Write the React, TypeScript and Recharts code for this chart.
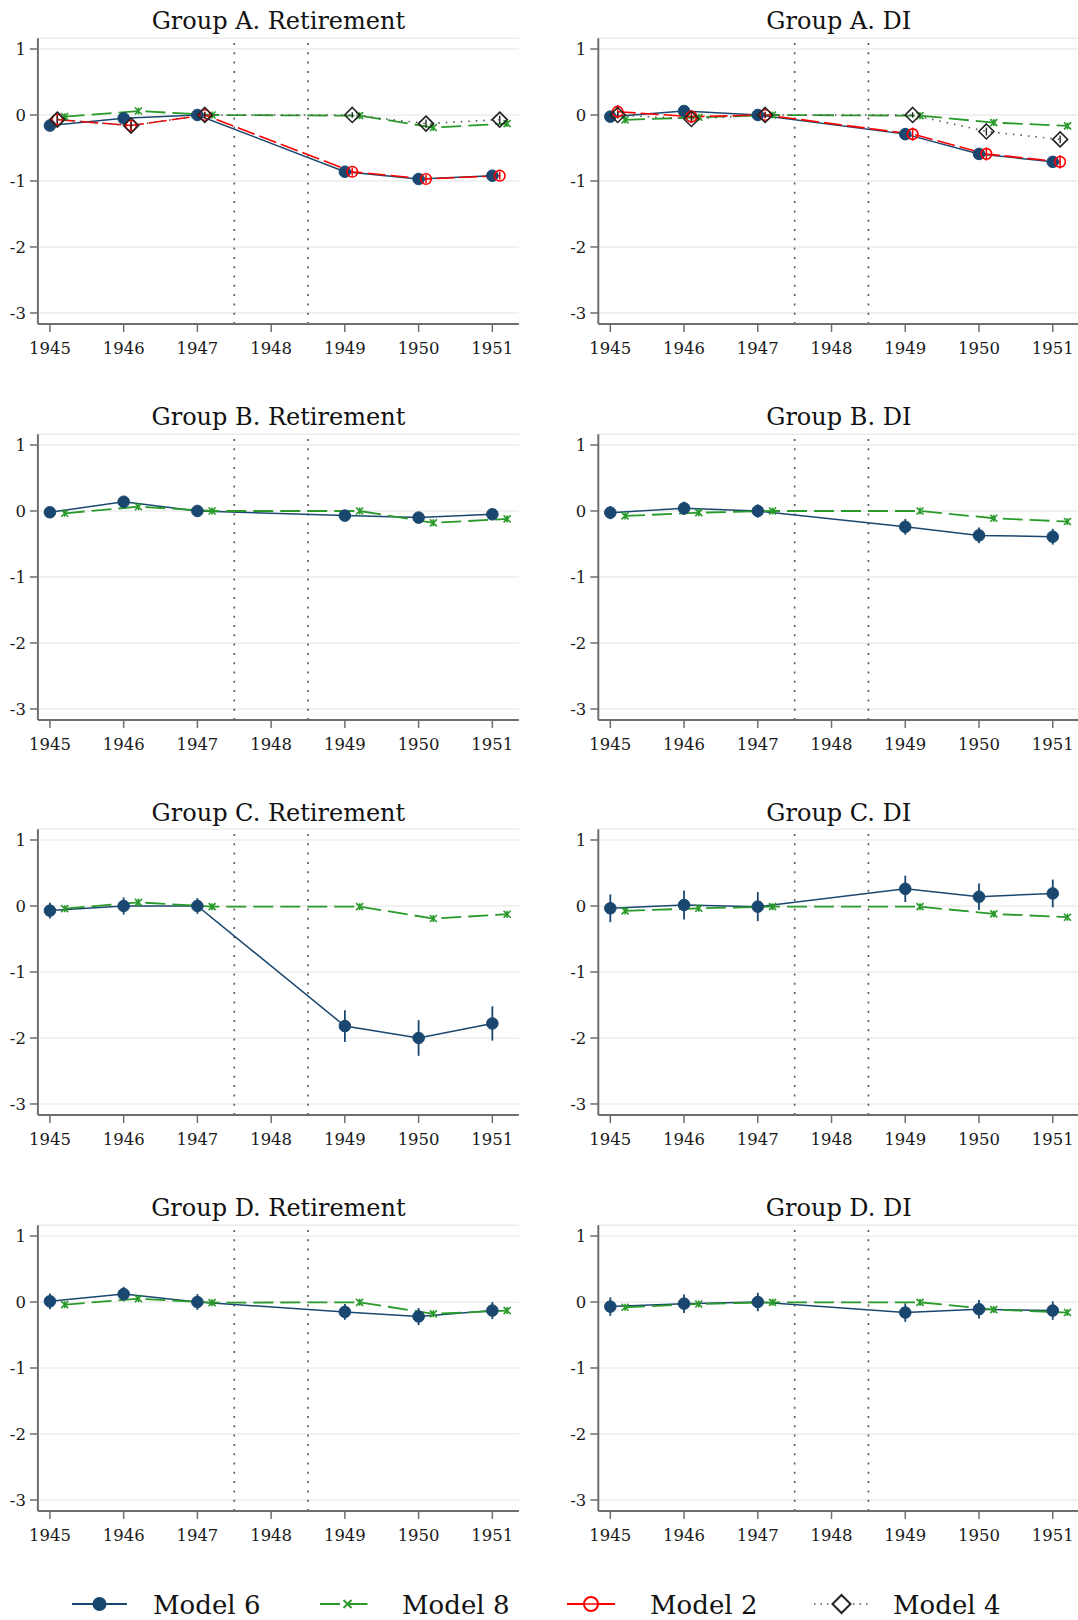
import React from 'react';
import { LineChart, Line, XAxis, YAxis, CartesianGrid, ReferenceLine, ErrorBar } from 'recharts';

const NAVY = '#1a476f';
const GREEN = '#2a9a2a';
const RED = '#ff0000';
const BLACK = '#222222';
const AXIS = '#6e6e6e';
const FONT = '"DejaVu Serif", serif';

const years = [1945, 1946, 1947, 1949, 1950, 1951];
const xTicks = [1945, 1946, 1947, 1948, 1949, 1950, 1951];
const yTicks = [-3, -2, -1, 0, 1];
const reformLines = [1947.5, 1948.5];
const legendLabels = ['Model 6', 'Model 8', 'Model 2', 'Model 4'];

// Group A. Retirement
const aRetM6 = [-0.16, -0.05, 0, -0.86, -0.97, -0.92];
const aRetM6ci = [0.05, 0.05, 0.04, 0.05, 0.05, 0.05];
const aRetM8 = [-0.025, 0.06, 0, -0.01, -0.19, -0.13];
const aRetM2 = [-0.07, -0.16, 0, -0.86, -0.97, -0.92];
const aRetM2ci = [0.08, 0.07, 0.05, 0.06, 0.06, 0.06];
const aRetM4 = [-0.07, -0.16, 0, 0, -0.13, -0.07];
const aRetM4ci = [0.06, 0.06, 0.04, 0.04, 0.06, 0.06];

// Group A. DI
const aDiM6 = [-0.025, 0.06, 0, -0.29, -0.59, -0.71];
const aDiM6ci = [0.07, 0.07, 0.05, 0.08, 0.08, 0.08];
const aDiM8 = [-0.075, -0.035, 0, -0.01, -0.115, -0.165];
const aDiM2 = [0.05, -0.025, 0, -0.29, -0.59, -0.71];
const aDiM2ci = [0.1, 0.1, 0.05, 0.1, 0.1, 0.1];
const aDiM4 = [0, -0.06, 0, 0, -0.25, -0.37];
const aDiM4ci = [0.05, 0.06, 0.04, 0.04, 0.06, 0.06];

// Group B. Retirement
const bRetM6 = [-0.02, 0.14, 0, -0.07, -0.1, -0.05];
const bRetM6ci = [0.05, 0.05, 0.04, 0.05, 0.05, 0.05];
const bRetM8 = [-0.035, 0.065, 0, 0, -0.18, -0.12];

// Group B. DI
const bDiM6 = [-0.025, 0.04, 0, -0.24, -0.37, -0.39];
const bDiM6ci = [0.1, 0.1, 0.1, 0.12, 0.12, 0.12];
const bDiM8 = [-0.075, -0.025, 0, 0, -0.11, -0.16];

// Group C. Retirement
const cRetM6 = [-0.07, 0, 0, -1.82, -2.0, -1.78];
const cRetM6ci = [0.12, 0.13, 0.12, 0.24, 0.27, 0.26];
const cRetM8 = [-0.04, 0.055, -0.01, -0.01, -0.19, -0.125];

// Group C. DI
const cDiM6 = [-0.035, 0.015, -0.01, 0.26, 0.14, 0.19];
const cDiM6ci = [0.21, 0.22, 0.22, 0.2, 0.2, 0.21];
const cDiM8 = [-0.075, -0.035, -0.01, -0.01, -0.12, -0.17];

// Group D. Retirement
const dRetM6 = [0.01, 0.12, 0, -0.15, -0.22, -0.13];
const dRetM6ci = [0.12, 0.11, 0.12, 0.12, 0.13, 0.13];
const dRetM8 = [-0.04, 0.05, -0.01, -0.005, -0.18, -0.13];

// Group D. DI
const dDiM6 = [-0.07, -0.025, 0, -0.16, -0.11, -0.13];
const dDiM6ci = [0.14, 0.14, 0.14, 0.14, 0.14, 0.14];
const dDiM8 = [-0.08, -0.03, -0.005, -0.005, -0.115, -0.16];

const OFF6 = 0;
const OFF2 = 0.1;
const OFF4 = 0.1;
const OFF8 = 0.2;

type Pt = { x: number; y: number; e: number };
const toPoints = (vals: number[], off: number, ci?: number[]): Pt[] =>
  years.map((yr, i) => ({ x: yr + off, y: vals[i], e: ci ? ci[i] : 0 }));

type Panel = {
  title: string;
  row: number;
  col: number;
  m6: number[];
  m6ci: number[];
  m8: number[];
  m2?: number[];
  m2ci?: number[];
  m4?: number[];
  m4ci?: number[];
};

const panels: Panel[] = [
  { title: 'Group A. Retirement', row: 0, col: 0, m6: aRetM6, m6ci: aRetM6ci, m8: aRetM8, m2: aRetM2, m2ci: aRetM2ci, m4: aRetM4, m4ci: aRetM4ci },
  { title: 'Group A. DI', row: 0, col: 1, m6: aDiM6, m6ci: aDiM6ci, m8: aDiM8, m2: aDiM2, m2ci: aDiM2ci, m4: aDiM4, m4ci: aDiM4ci },
  { title: 'Group B. Retirement', row: 1, col: 0, m6: bRetM6, m6ci: bRetM6ci, m8: bRetM8 },
  { title: 'Group B. DI', row: 1, col: 1, m6: bDiM6, m6ci: bDiM6ci, m8: bDiM8 },
  { title: 'Group C. Retirement', row: 2, col: 0, m6: cRetM6, m6ci: cRetM6ci, m8: cRetM8 },
  { title: 'Group C. DI', row: 2, col: 1, m6: cDiM6, m6ci: cDiM6ci, m8: cDiM8 },
  { title: 'Group D. Retirement', row: 3, col: 0, m6: dRetM6, m6ci: dRetM6ci, m8: dRetM8 },
  { title: 'Group D. DI', row: 3, col: 1, m6: dDiM6, m6ci: dDiM6ci, m8: dDiM8 },
];

// layout
const ROW_STEP = 395.7;
const PLOT_TOP = 38.3;
const PLOT_H = 285.7;
const XAXIS_H = 40;
const CHART_H = PLOT_TOP + PLOT_H + XAXIS_H;
const X_MIN = 1944.837;
const X_MAX = 1951.36;
const colLayout = [
  { left: 0, yw: 37.9, plotW: 481, right: 2, titleX: 278.4 },
  { left: 540, yw: 58.3, plotW: 481, right: 0, titleX: 838.8 },
];
const Y_DOMAIN: [number, number] = [-3.167, 1.162];

const CircleFilled = (props: any) => {
  const { cx, cy } = props;
  if (cx == null || cy == null) return <g />;
  return <circle cx={cx} cy={cy} r={5.8} fill={NAVY} stroke={NAVY} strokeWidth={1} />;
};
const CircleHollow = (props: any) => {
  const { cx, cy } = props;
  if (cx == null || cy == null) return <g />;
  return <circle cx={cx} cy={cy} r={5.3} fill="none" stroke={RED} strokeWidth={1.6} />;
};
const XMark = (props: any) => {
  const { cx, cy } = props;
  if (cx == null || cy == null) return <g />;
  const s = 3.5;
  return (
    <path
      d={`M${cx - s},${cy - s}L${cx + s},${cy + s}M${cx - s},${cy + s}L${cx + s},${cy - s}M${cx},${cy - s}L${cx},${cy + s}`}
      stroke={GREEN}
      strokeWidth={1.6}
      fill="none"
    />
  );
};
const Diamond = (props: any) => {
  const { cx, cy } = props;
  if (cx == null || cy == null) return <g />;
  const s = 7.5;
  return (
    <path
      d={`M${cx},${cy - s}L${cx + s},${cy}L${cx},${cy + s}L${cx - s},${cy}Z`}
      stroke={BLACK}
      strokeWidth={1.6}
      fill="none"
    />
  );
};

const tickStyle = { fontFamily: FONT, fontSize: 16.5, fill: '#1a1a1a' };

const PanelChart = ({ p }: { p: Panel }) => {
  const c = colLayout[p.col];
  const width = c.yw + c.plotW + c.right;
  const d6 = toPoints(p.m6, OFF6, p.m6ci);
  const d8 = toPoints(p.m8, OFF8);
  const d2 = p.m2 ? toPoints(p.m2, OFF2, p.m2ci) : null;
  const d4 = p.m4 ? toPoints(p.m4, OFF4, p.m4ci) : null;
  return (
    <div style={{ position: 'absolute', left: c.left, top: p.row * ROW_STEP, width, height: CHART_H }}>
      <LineChart width={width} height={CHART_H} margin={{ top: PLOT_TOP, right: c.right, bottom: 0, left: 0 }}>
        <CartesianGrid vertical={false} stroke="#ececec" strokeWidth={1.5} />
        <XAxis
          type="number"
          dataKey="x"
          domain={[X_MIN, X_MAX]}
          allowDataOverflow
          ticks={xTicks}
          interval={0}
          height={XAXIS_H}
          tickSize={8}
          tickMargin={10}
          tick={tickStyle}
          axisLine={{ stroke: AXIS, strokeWidth: 2 }}
          tickLine={{ stroke: AXIS, strokeWidth: 1.5 }}
        />
        <YAxis
          type="number"
          domain={Y_DOMAIN}
          allowDataOverflow
          ticks={yTicks}
          interval={0}
          width={c.yw}
          tickSize={8}
          tickMargin={4}
          tick={tickStyle}
          axisLine={{ stroke: AXIS, strokeWidth: 2 }}
          tickLine={{ stroke: AXIS, strokeWidth: 1.5 }}
        />
        {reformLines.map((v) => (
          <ReferenceLine key={v} x={v} stroke="#555" strokeWidth={1.6} strokeDasharray="2 7.3" />
        ))}
        <Line
          data={d6}
          dataKey="y"
          stroke={NAVY}
          strokeWidth={1.5}
          dot={<CircleFilled />}
          activeDot={false}
          isAnimationActive={false}
        >
          <ErrorBar dataKey="e" direction="y" width={0} stroke={NAVY} strokeWidth={1.8} isAnimationActive={false} />
        </Line>
        <Line
          data={d8}
          dataKey="y"
          stroke={GREEN}
          strokeWidth={1.8}
          strokeDasharray="20 7"
          dot={<XMark />}
          activeDot={false}
          isAnimationActive={false}
        />
        {d2 && (
          <Line
            data={d2}
            dataKey="y"
            stroke={RED}
            strokeWidth={1.6}
            strokeDasharray="18 5"
            dot={<CircleHollow />}
            activeDot={false}
            isAnimationActive={false}
          >
            <ErrorBar dataKey="e" direction="y" width={0} stroke={RED} strokeWidth={1.5} isAnimationActive={false} />
          </Line>
        )}
        {d4 && (
          <Line
            data={d4}
            dataKey="y"
            stroke="#555"
            strokeWidth={1.6}
            strokeDasharray="1.5 6"
            dot={<Diamond />}
            activeDot={false}
            isAnimationActive={false}
          >
            <ErrorBar dataKey="e" direction="y" width={0} stroke={BLACK} strokeWidth={1.4} isAnimationActive={false} />
          </Line>
        )}
      </LineChart>
    </div>
  );
};

const LEGEND_Y = 1604;
const legendItems = [
  { label: legendLabels[0], x0: 72, x1: 127, tx: 153, kind: 'm6' },
  { label: legendLabels[1], x0: 320, x1: 375, tx: 402, kind: 'm8' },
  { label: legendLabels[2], x0: 567, x1: 615, tx: 650, kind: 'm2' },
  { label: legendLabels[3], x0: 814, x1: 869, tx: 893, kind: 'm4' },
];

const Overlay = () => (
  <svg width={1078} height={1620} style={{ position: 'absolute', left: 0, top: 0, pointerEvents: 'none' }}>
    {panels.map((p) => (
      <text
        key={p.title}
        x={colLayout[p.col].titleX}
        y={29.3 + p.row * ROW_STEP}
        textAnchor="middle"
        fontFamily={FONT}
        fontSize={24}
        fill="#111"
      >
        {p.title}
      </text>
    ))}
    {legendItems.map((it) => {
      const cx = (it.x0 + it.x1) / 2;
      const y = LEGEND_Y;
      return (
        <g key={it.label}>
          {it.kind === 'm6' && (
            <g>
              <line x1={it.x0} x2={it.x1} y1={y} y2={y} stroke={NAVY} strokeWidth={2} />
              <circle cx={cx} cy={y} r={7} fill={NAVY} />
            </g>
          )}
          {it.kind === 'm8' && (
            <g>
              <line x1={it.x0} x2={it.x1} y1={y} y2={y} stroke={GREEN} strokeWidth={2} strokeDasharray="20 7.5" />
              <path d={`M${cx - 4},${y - 4}L${cx + 4},${y + 4}M${cx - 4},${y + 4}L${cx + 4},${y - 4}`} stroke={GREEN} strokeWidth={1.8} />
            </g>
          )}
          {it.kind === 'm2' && (
            <g>
              <line x1={it.x0} x2={it.x1} y1={y} y2={y} stroke={RED} strokeWidth={2} />
              <circle cx={cx} cy={y} r={7} fill="#fff" stroke={RED} strokeWidth={2} />
              <line x1={cx - 7} x2={cx + 7} y1={y} y2={y} stroke={RED} strokeWidth={1.5} />
            </g>
          )}
          {it.kind === 'm4' && (
            <g>
              <line x1={it.x0} x2={it.x1} y1={y} y2={y} stroke="#555" strokeWidth={1.6} strokeDasharray="1.5 5" />
              <path d={`M${cx},${y - 9}L${cx + 9},${y}L${cx},${y + 9}L${cx - 9},${y}Z`} fill="#fff" stroke={BLACK} strokeWidth={2} />
            </g>
          )}
          <text x={it.tx} y={y + 9.5} fontFamily={FONT} fontSize={26} fill="#111">
            {it.label}
          </text>
        </g>
      );
    })}
  </svg>
);

export default function App() {
  return (
    <div
      style={{
        position: 'absolute',
        left: 0,
        top: 0,
        width: 1078,
        height: 1620,
        overflow: 'hidden',
        background: '#fff',
      }}
    >
      {panels.map((p) => (
        <PanelChart key={p.title} p={p} />
      ))}
      <Overlay />
    </div>
  );
}
